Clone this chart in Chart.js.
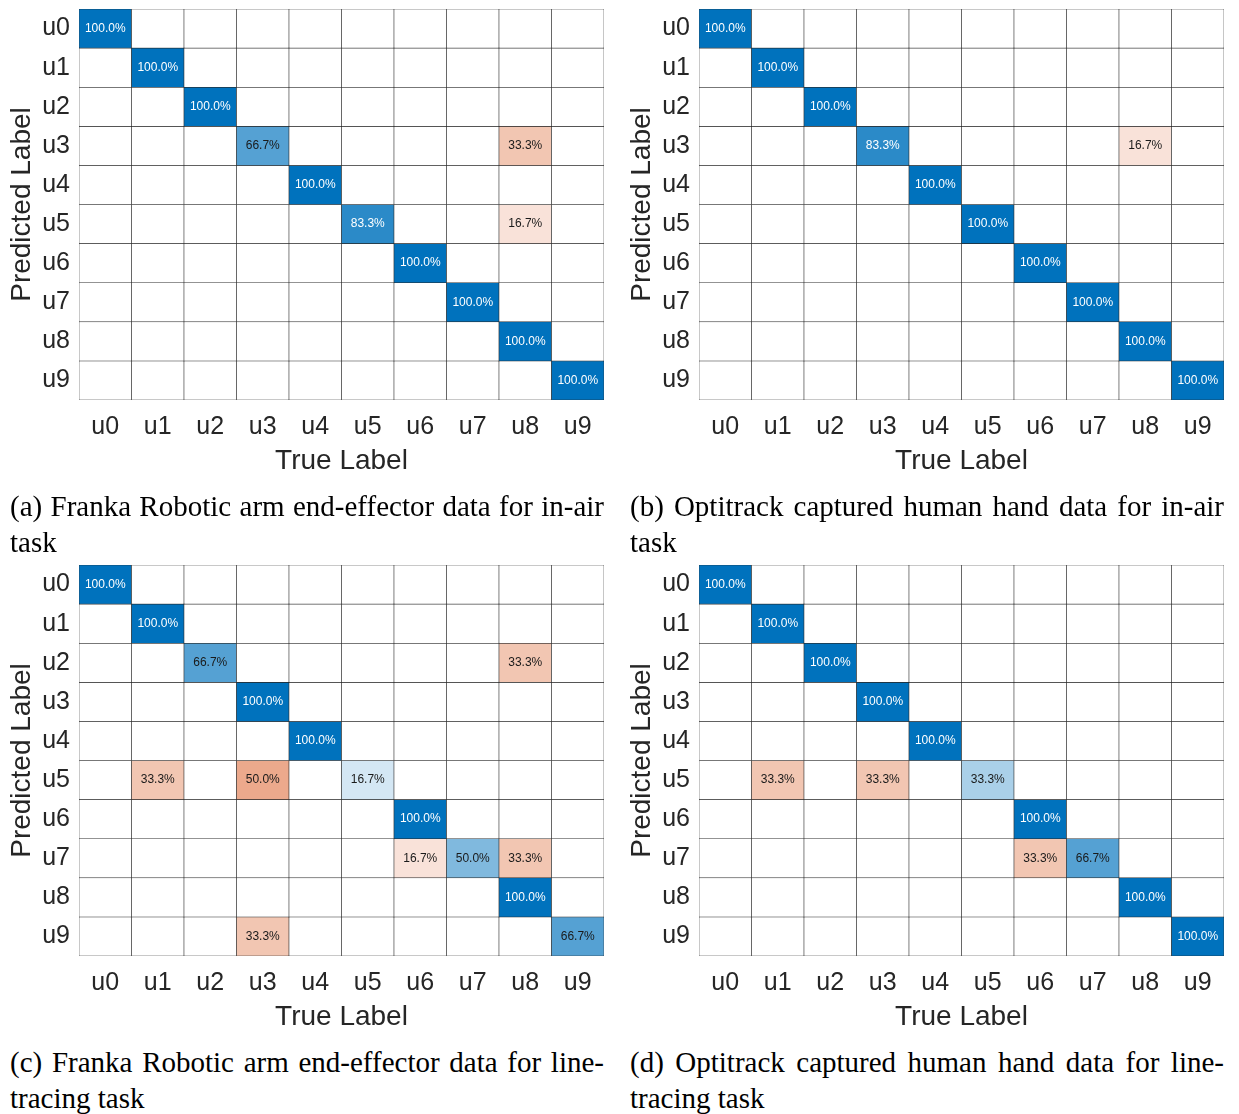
<!DOCTYPE html>
<html>
<head>
<meta charset="utf-8">
<script src="https://cdn.jsdelivr.net/npm/chart.js"></script>
<style>
  body { margin: 0; background: #fff; }
  #wrap { position: relative; width: 1239px; height: 1114px; }
  .panel { position: absolute; }
  .cap {
    position: absolute; margin: 0; width: 594px;
    font-family: "Liberation Serif", "Times New Roman", serif;
    font-size: 29px; line-height: 36px; text-align: justify; color: #000;
  }
</style>
</head>
<body>
<div id="wrap">
  <div class="panel" style="left:0;top:0"><canvas id="cA" width="615" height="480"></canvas></div>
  <div class="panel" style="left:620px;top:0"><canvas id="cB" width="615" height="480"></canvas></div>
  <div class="panel" style="left:0;top:556px"><canvas id="cC" width="615" height="480"></canvas></div>
  <div class="panel" style="left:620px;top:556px"><canvas id="cD" width="615" height="480"></canvas></div>
  <p class="cap" style="left:10px;top:488px">(a) Franka Robotic arm end-effector data for in-air task</p>
  <p class="cap" style="left:630px;top:488px">(b) Optitrack captured human hand data for in-air task</p>
  <p class="cap" style="left:10px;top:1044px">(c) Franka Robotic arm end-effector data for line-tracing task</p>
  <p class="cap" style="left:630px;top:1044px">(d) Optitrack captured human hand data for line-tracing task</p>
</div>
<script>
// etiquetas
const trueLabels = ['u0', 'u1', 'u2', 'u3', 'u4', 'u5', 'u6', 'u7', 'u8', 'u9'];
const predLabels = ['u0', 'u1', 'u2', 'u3', 'u4', 'u5', 'u6', 'u7', 'u8', 'u9'];

// matrices (filas = predicted, columnas = true), en %
const matrixA = [
  [100, 0, 0, 0, 0, 0, 0, 0, 0, 0],
  [0, 100, 0, 0, 0, 0, 0, 0, 0, 0],
  [0, 0, 100, 0, 0, 0, 0, 0, 0, 0],
  [0, 0, 0, 66.7, 0, 0, 0, 0, 33.3, 0],
  [0, 0, 0, 0, 100, 0, 0, 0, 0, 0],
  [0, 0, 0, 0, 0, 83.3, 0, 0, 16.7, 0],
  [0, 0, 0, 0, 0, 0, 100, 0, 0, 0],
  [0, 0, 0, 0, 0, 0, 0, 100, 0, 0],
  [0, 0, 0, 0, 0, 0, 0, 0, 100, 0],
  [0, 0, 0, 0, 0, 0, 0, 0, 0, 100]
];

const matrixB = [
  [100, 0, 0, 0, 0, 0, 0, 0, 0, 0],
  [0, 100, 0, 0, 0, 0, 0, 0, 0, 0],
  [0, 0, 100, 0, 0, 0, 0, 0, 0, 0],
  [0, 0, 0, 83.3, 0, 0, 0, 0, 16.7, 0],
  [0, 0, 0, 0, 100, 0, 0, 0, 0, 0],
  [0, 0, 0, 0, 0, 100, 0, 0, 0, 0],
  [0, 0, 0, 0, 0, 0, 100, 0, 0, 0],
  [0, 0, 0, 0, 0, 0, 0, 100, 0, 0],
  [0, 0, 0, 0, 0, 0, 0, 0, 100, 0],
  [0, 0, 0, 0, 0, 0, 0, 0, 0, 100]
];

const matrixC = [
  [100, 0, 0, 0, 0, 0, 0, 0, 0, 0],
  [0, 100, 0, 0, 0, 0, 0, 0, 0, 0],
  [0, 0, 66.7, 0, 0, 0, 0, 0, 33.3, 0],
  [0, 0, 0, 100, 0, 0, 0, 0, 0, 0],
  [0, 0, 0, 0, 100, 0, 0, 0, 0, 0],
  [0, 33.3, 0, 50.0, 0, 16.7, 0, 0, 0, 0],
  [0, 0, 0, 0, 0, 0, 100, 0, 0, 0],
  [0, 0, 0, 0, 0, 0, 16.7, 50.0, 33.3, 0],
  [0, 0, 0, 0, 0, 0, 0, 0, 100, 0],
  [0, 0, 0, 33.3, 0, 0, 0, 0, 0, 66.7]
];

const matrixD = [
  [100, 0, 0, 0, 0, 0, 0, 0, 0, 0],
  [0, 100, 0, 0, 0, 0, 0, 0, 0, 0],
  [0, 0, 100, 0, 0, 0, 0, 0, 0, 0],
  [0, 0, 0, 100, 0, 0, 0, 0, 0, 0],
  [0, 0, 0, 0, 100, 0, 0, 0, 0, 0],
  [0, 33.3, 0, 33.3, 0, 33.3, 0, 0, 0, 0],
  [0, 0, 0, 0, 0, 0, 100, 0, 0, 0],
  [0, 0, 0, 0, 0, 0, 33.3, 66.7, 0, 0],
  [0, 0, 0, 0, 0, 0, 0, 0, 100, 0],
  [0, 0, 0, 0, 0, 0, 0, 0, 0, 100]
];

const blue = [0, 114, 189];
const orange = [217, 83, 25];

function cellColor(v, diag) {
  if (v === 0) return '#ffffff';
  const base = diag ? blue : orange;
  const t = v / 100;
  const c = base.map(b => Math.round(255 + (b - 255) * t));
  return 'rgb(' + c.join(',') + ')';
}

function makeChart(id, matrix) {
  const datasets = predLabels.map((p, r) => ({
    label: p,
    data: trueLabels.map(() => [r - 0.5, r + 0.5]),
    backgroundColor: matrix[r].map((v, c) => cellColor(v, r === c)),
    borderColor: '#262626',
    borderWidth: 0.6,
    borderSkipped: false,
    grouped: false,
    barPercentage: 1,
    categoryPercentage: 1
  }));

  // texto de cada celda
  const cellText = {
    id: 'cellText',
    afterDatasetsDraw(chart) {
      const ctx = chart.ctx;
      ctx.save();
      ctx.font = '12px "Liberation Sans", Arial, sans-serif';
      ctx.textAlign = 'center';
      ctx.textBaseline = 'middle';
      chart.data.datasets.forEach((ds, r) => {
        chart.getDatasetMeta(r).data.forEach((bar, c) => {
          const v = matrix[r][c];
          if (v === 0) return;
          ctx.fillStyle = v >= 70 ? '#ffffff' : '#1a1a1a';
          ctx.fillText(v.toFixed(1) + '%', bar.x, (bar.y + bar.base) / 2);
        });
      });
      ctx.restore();
    }
  };

  return new Chart(document.getElementById(id), {
    type: 'bar',
    data: { labels: trueLabels, datasets: datasets },
    options: {
      responsive: false,
      animation: false,
      devicePixelRatio: 1,
      layout: { padding: { top: 9, right: 11, bottom: 0, left: 0 } },
      plugins: { legend: { display: false }, tooltip: { enabled: false } },
      scales: {
        x: {
          type: 'category',
          offset: true,
          grid: { display: false, drawTicks: false },
          border: { display: false },
          afterFit: s => { s.height = 80; s.paddingLeft = 0; s.paddingRight = 0; },
          ticks: {
            color: '#262626', padding: 12, maxRotation: 0, autoSkip: false,
            font: { family: '"Liberation Sans", Arial, sans-serif', size: 25 }
          },
          title: {
            display: true, text: 'True Label', color: '#262626',
            padding: { top: 0, bottom: 2 },
            font: { family: '"Liberation Sans", Arial, sans-serif', size: 28, lineHeight: 1.2 }
          }
        },
        y: {
          type: 'linear',
          reverse: true,
          min: -0.5,
          max: 9.5,
          grid: { display: false, drawTicks: false },
          border: { display: false },
          afterFit: s => { s.width = 79; s.paddingTop = 0; s.paddingBottom = 0; },
          afterBuildTicks: s => { s.ticks = predLabels.map((l, i) => ({ value: i })); },
          ticks: {
            color: '#262626', padding: 9, autoSkip: false,
            callback: v => predLabels[v],
            font: { family: '"Liberation Sans", Arial, sans-serif', size: 25 }
          },
          title: {
            display: true, text: 'Predicted Label', color: '#262626',
            padding: { top: 5, bottom: 0 },
            font: { family: '"Liberation Sans", Arial, sans-serif', size: 28, lineHeight: 1.2 }
          }
        }
      }
    },
    plugins: [cellText]
  });
}

makeChart('cA', matrixA);
makeChart('cB', matrixB);
makeChart('cC', matrixC);
makeChart('cD', matrixD);
</script>
</body>
</html>
